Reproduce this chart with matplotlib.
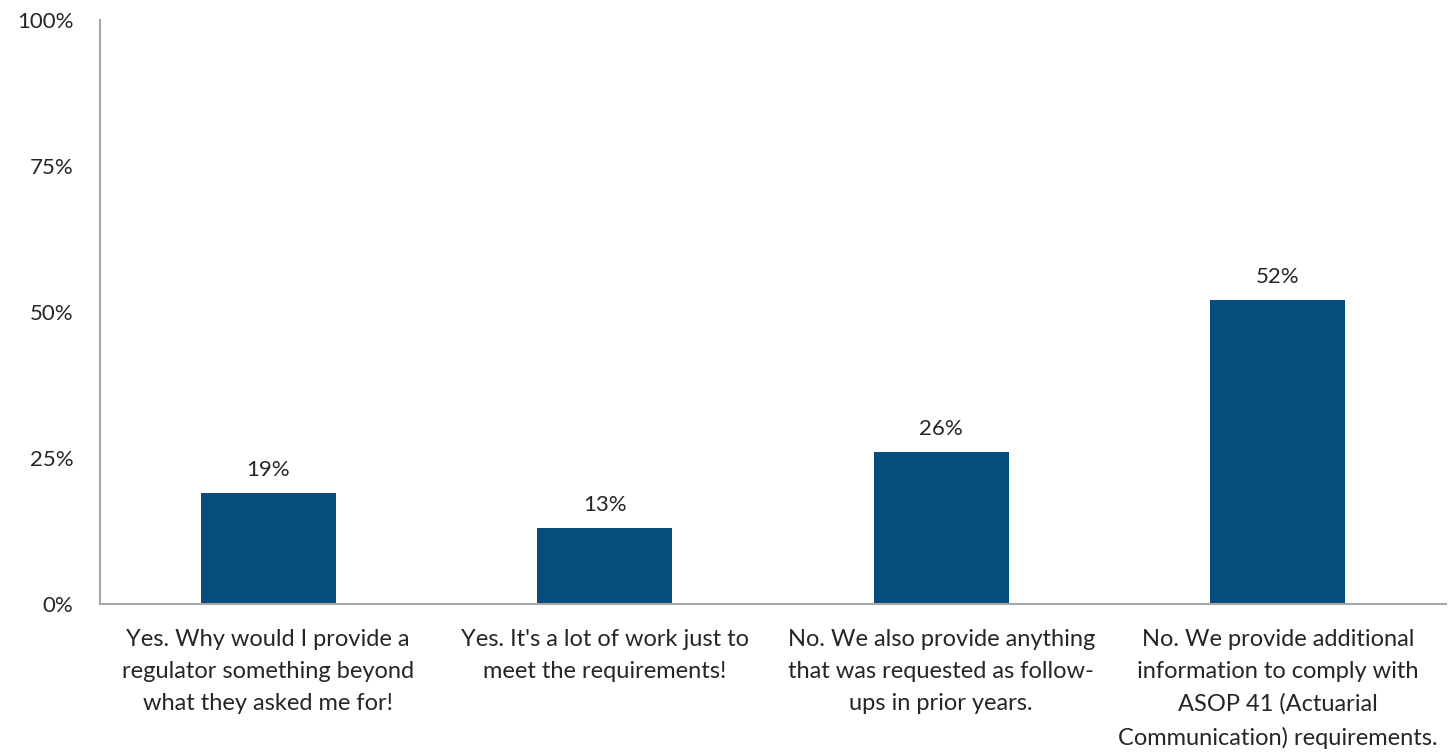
import matplotlib.pyplot as plt
from matplotlib.ticker import FuncFormatter

categories = [
    "Yes. Why would I provide a\nregulator something beyond\nwhat they asked me for!",
    "Yes. It's a lot of work just to\nmeet the requirements!",
    "No. We also provide anything\nthat was requested as follow-\nups in prior years.",
    "No. We provide additional\ninformation to comply with\nASOP 41 (Actuarial\nCommunication) requirements.",
]
shares = [19, 13, 26, 52]
y_ticks = [0, 25, 50, 75, 100]

plt.rcParams['font.family'] = ['Lato', 'DejaVu Sans']
TEXT = '#262626'

fig = plt.figure(figsize=(14.52, 7.52), dpi=100)
ax = fig.add_axes([100 / 1452, 1 - 604 / 752, 1346 / 1452, 584 / 752])

x = range(len(categories))
bars = ax.bar(x, shares, width=0.4, color='#054E7C')
for b, v in zip(bars, shares):
    ax.text(b.get_x() + b.get_width() / 2, v + 2.3, f"{v}%", ha='center', va='bottom',
            fontsize=16, color=TEXT)

ax.set_xlim(-0.5, len(categories) - 0.5)
ax.set_ylim(0, 100)
ax.set_yticks(y_ticks)
ax.yaxis.set_major_formatter(FuncFormatter(lambda v, _: f"{v:.0f}%"))
ax.set_xticks(list(x))
ax.set_xticklabels(categories, fontsize=17, color=TEXT, linespacing=1.65)
ax.tick_params(length=0)
ax.tick_params(axis='x', pad=18)
ax.tick_params(axis='y', pad=19, labelsize=16, labelcolor=TEXT)

for side in ('top', 'right'):
    ax.spines[side].set_visible(False)
for side in ('left', 'bottom'):
    ax.spines[side].set_color('#A6A6A6')
    ax.spines[side].set_linewidth(1.5)

fig.savefig('out.png', dpi=100)
